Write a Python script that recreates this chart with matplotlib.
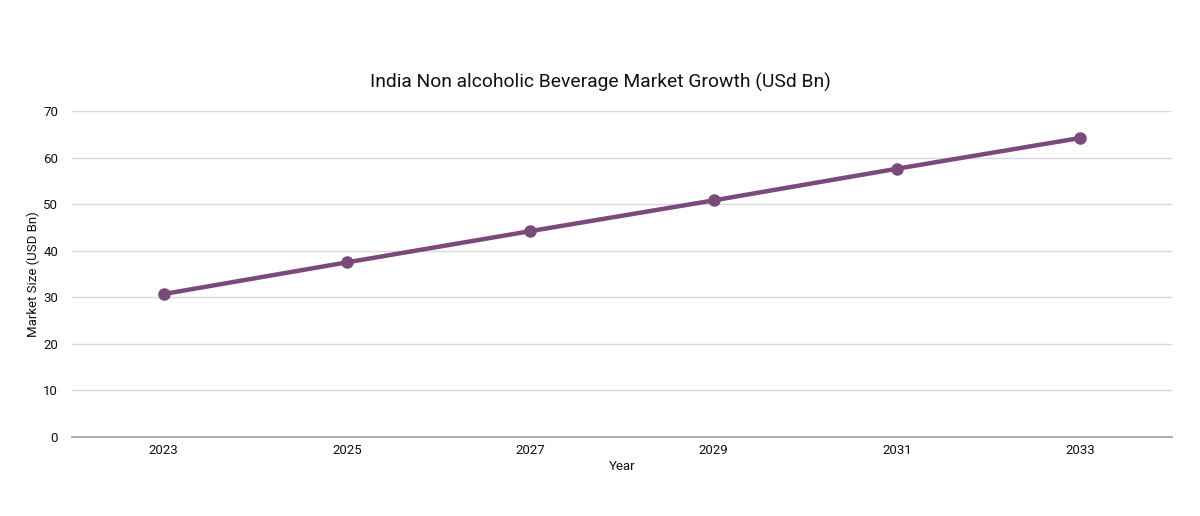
import matplotlib.pyplot as plt

plt.rcParams['font.family'] = ['Roboto', 'DejaVu Sans']

# data
years = ["2023", "2025", "2027", "2029", "2031", "2033"]
market_size = [30.7, 37.5, 44.2, 50.8, 57.6, 64.2]

fig = plt.figure(figsize=(12, 5.16), dpi=100)
ax = fig.add_axes([0.06, 0.153, 0.9167, 0.632])

x = range(len(years))
ax.plot(x, market_size, color="#7b4a7b", lw=3.2, marker="o", ms=8,
        solid_capstyle="round", zorder=3)

ax.set_xlim(-0.5, len(years) - 0.5)
ax.set_ylim(0, 70)
ax.set_yticks(range(0, 71, 10))
ax.set_xticks(list(x))
ax.set_xticklabels(years)
ax.grid(axis="y", color="#d9d9d9", lw=1)
ax.set_axisbelow(True)
for s in ["top", "right", "left"]:
    ax.spines[s].set_visible(False)
ax.spines["bottom"].set_color("#9e9e9e")
ax.spines["bottom"].set_linewidth(1.2)
ax.tick_params(axis="both", length=0, labelsize=9.5, colors="#111111")
ax.tick_params(axis="x", pad=5)
ax.tick_params(axis="y", pad=10)

ax.set_xlabel("Year", fontsize=9.5, color="#111111", labelpad=2)
ax.set_ylabel("Market Size (USD Bn)", fontsize=9.5, color="#111111", labelpad=2)
fig.text(0.5, 0.84, "India Non alcoholic Beverage Market Growth (USd Bn)",
         ha="center", va="center", fontsize=13.9, color="#111111")

fig.savefig("out.png", dpi=100)
